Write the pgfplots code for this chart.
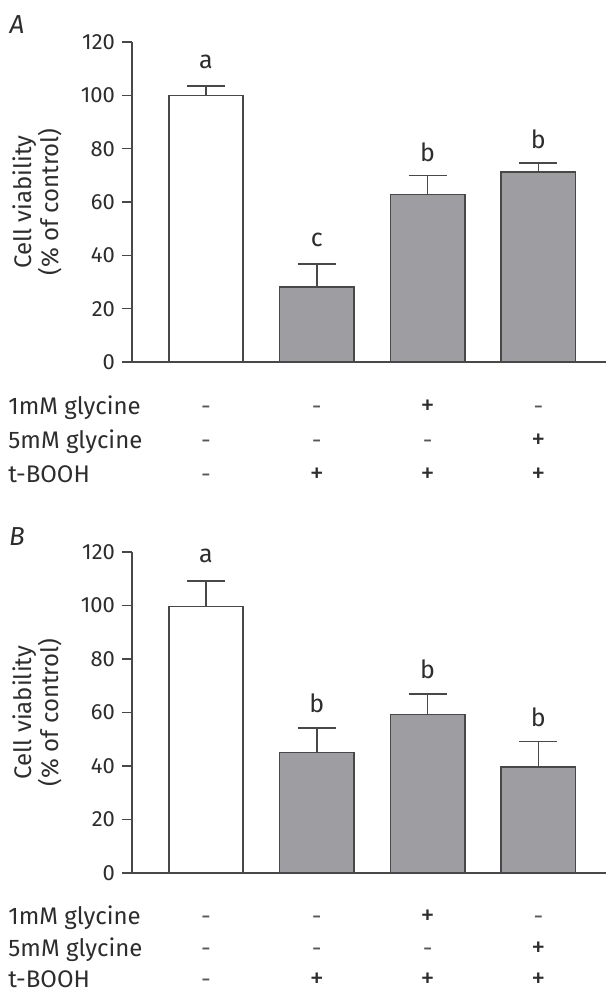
\documentclass[border=0pt]{standalone}
\usepackage{pgfplots}
\pgfplotsset{compat=1.18}
\usepackage{fontspec}
\setmainfont{Fira Sans}
\definecolor{barfill}{RGB}{158,158,162}
\definecolor{edge}{RGB}{72,72,72}
\definecolor{txt}{RGB}{45,45,45}
\pgfplotsset{panel/.style={
  scale only axis, width=237pt, height=160pt,
  xmin=-0.668, xmax=3.61, ymin=0, ymax=120,
  axis x line*=bottom, axis y line*=left,
  axis line style={edge, line width=0.8pt},
  xtick=\empty, ytick={0,20,...,120},
  tick align=outside, major tick length=5pt,
  tick style={edge, line width=0.8pt},
  /pgf/number format/assume math mode=true,
  yticklabel style={font=\fontsize{11}{12}\selectfont, text=txt},
  ylabel={Cell viability\\(\% of control)},
  ylabel style={at={(axis description cs:-0.2,0.5)}, anchor=center, align=center,
    font=\fontsize{12}{12.5}\selectfont, text=txt},
  ybar, bar width=0.672, bar shift=0pt,
  clip=false,
}}
\pgfplotsset{errstyle/.style={error bars/.cd, y dir=plus, y explicit,
  error bar style={edge, line width=0.8pt},
  error mark options={edge, line width=0.8pt, mark size=9.5pt, rotate=90}}}
\tikzset{lab/.style={font=\fontsize{12.5}{12}\selectfont, text=txt},
  pm/.style={font=\fontsize{14}{14}\selectfont, text=txt, anchor=base, inner sep=0pt},
  mn/.style={font=\fontsize{12}{12}\selectfont, text=txt!80, anchor=base, inner sep=0pt},
  rowlab/.style={font=\fontsize{12}{12}\selectfont, text=txt, anchor=base west, inner sep=0pt},
  panlab/.style={font=\fontsize{13}{13}\selectfont\itshape, text=txt}}
\begin{document}
\begin{tikzpicture}
\path[use as bounding box] (0,0) rectangle (304pt,-497pt);
% Panel A
\begin{axis}[panel, at={(66pt,-181pt)}, anchor=south west]
\addplot[fill=white, draw=edge, line width=0.8pt, errstyle] coordinates {(0,100) +- (0,3.4)};
\addplot[fill=barfill, draw=edge, line width=0.8pt, errstyle] coordinates {
  (1,28.2) +- (0,8.6)
  (2,62.8) +- (0,7.2)
  (3,71.3) +- (0,3.4)};
\node[lab] at (axis cs:0,112.6) {a};
\node[lab] at (axis cs:1,45.8) {c};
\node[lab] at (axis cs:2,78.5) {b};
\node[lab] at (axis cs:3,83.5) {b};
\node[panlab] at (axis cs:-1.706,126.4) {A};
\node[rowlab] at (axis cs:-1.787,-19.5) {1mM glycine};
\node[rowlab] at (axis cs:-1.787,-32.25) {5mM glycine};
\node[rowlab] at (axis cs:-1.787,-45) {t-BOOH};
\node[mn] at (axis cs:0,-19.5) {-};
\node[mn] at (axis cs:1,-19.5) {-};
\node[pm] at (axis cs:2,-19.5) {+};
\node[mn] at (axis cs:3,-19.5) {-};
\node[mn] at (axis cs:0,-32.25) {-};
\node[mn] at (axis cs:1,-32.25) {-};
\node[mn] at (axis cs:2,-32.25) {-};
\node[pm] at (axis cs:3,-32.25) {+};
\node[mn] at (axis cs:0,-45) {-};
\node[pm] at (axis cs:1,-45) {+};
\node[pm] at (axis cs:2,-45) {+};
\node[pm] at (axis cs:3,-45) {+};
\end{axis}
% Panel B
\begin{axis}[panel, at={(66pt,-436.5pt)}, anchor=south west, height=160.5pt]
\addplot[fill=white, draw=edge, line width=0.8pt, errstyle] coordinates {(0,99.6) +- (0,9.6)};
\addplot[fill=barfill, draw=edge, line width=0.8pt, errstyle] coordinates {
  (1,45.1) +- (0,9.2)
  (2,59.2) +- (0,7.7)
  (3,39.6) +- (0,9.6)};
\node[lab] at (axis cs:0,118.4) {a};
\node[lab] at (axis cs:1,63.4) {b};
\node[lab] at (axis cs:2,76.2) {b};
\node[lab] at (axis cs:3,58.2) {b};
\node[panlab] at (axis cs:-1.706,125.6) {B};
\node[rowlab] at (axis cs:-1.787,-19.2) {1mM glycine};
\node[rowlab] at (axis cs:-1.787,-31.2) {5mM glycine};
\node[rowlab] at (axis cs:-1.787,-42.7) {t-BOOH};
\node[mn] at (axis cs:0,-19.2) {-};
\node[mn] at (axis cs:1,-19.2) {-};
\node[pm] at (axis cs:2,-19.2) {+};
\node[mn] at (axis cs:3,-19.2) {-};
\node[mn] at (axis cs:0,-31.2) {-};
\node[mn] at (axis cs:1,-31.2) {-};
\node[mn] at (axis cs:2,-31.2) {-};
\node[pm] at (axis cs:3,-31.2) {+};
\node[mn] at (axis cs:0,-42.7) {-};
\node[pm] at (axis cs:1,-42.7) {+};
\node[pm] at (axis cs:2,-42.7) {+};
\node[pm] at (axis cs:3,-42.7) {+};
\end{axis}
\end{tikzpicture}
\end{document}
